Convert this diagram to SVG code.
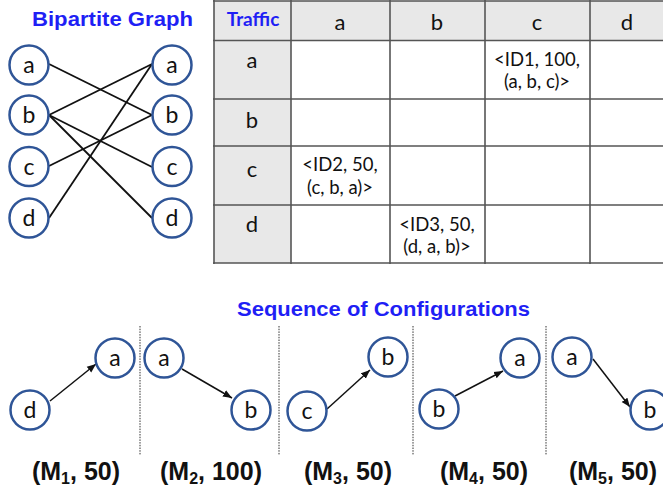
<svg xmlns="http://www.w3.org/2000/svg" width="663" height="496" viewBox="0 0 663 496">
<style>
.title{font-family:"Liberation Sans",Arial,sans-serif;font-weight:bold;fill:#1f1ff5;font-size:20px}
.node circle{fill:#fff;stroke:#2f5597;stroke-width:2.5}
.node text{font-family:Lato,"Open Sans",sans-serif;font-size:23px;fill:#111;text-anchor:middle}
.edge{stroke:#111;stroke-width:1.8;fill:none}
.arrow{stroke:#111;stroke-width:1.5;fill:none;marker-end:url(#arr)}
.grid{stroke:#555;stroke-width:1.6}
.hdr{fill:#e8e8e8}
.th{font-family:Lato,"Open Sans",sans-serif;font-size:22px;fill:#111;text-anchor:middle}
.td{font-family:Lato,"Open Sans",sans-serif;font-size:18.5px;fill:#111;text-anchor:middle}
.traffic{font-family:Lato,"Open Sans",sans-serif;font-size:19px;font-weight:bold;fill:#1f1ff5;text-anchor:middle}
.sep{stroke:#333;stroke-width:1;stroke-dasharray:1.5 1.2}
.lbl{font-family:"Liberation Sans",Arial,sans-serif;font-weight:bold;font-size:25px;fill:#111;text-anchor:middle}
</style>
<defs>
<marker id="arr" viewBox="0 0 10 10" refX="10" refY="5" markerWidth="9" markerHeight="9" markerUnits="userSpaceOnUse" orient="auto"><path d="M0,1 L10,5 L0,9 z" fill="#111"/></marker>
</defs>
<rect width="663" height="496" fill="#fff"/>

<text class="title" x="32" y="26" textLength="161" lengthAdjust="spacingAndGlyphs">Bipartite Graph</text>

<g id="table">
<rect class="hdr" x="214" y="1" width="449" height="39.5"/>
<rect class="hdr" x="214" y="40" width="77" height="223"/>
<g class="grid">
<line x1="213" y1="1" x2="663" y2="1"/>
<line x1="213" y1="40.5" x2="663" y2="40.5"/>
<line x1="213" y1="99" x2="663" y2="99"/>
<line x1="213" y1="146" x2="663" y2="146"/>
<line x1="213" y1="205" x2="663" y2="205"/>
<line x1="213" y1="263" x2="663" y2="263"/>
<line x1="214" y1="0" x2="214" y2="264"/>
<line x1="291" y1="0" x2="291" y2="264"/>
<line x1="390" y1="0" x2="390" y2="264"/>
<line x1="485" y1="0" x2="485" y2="264"/>
<line x1="590" y1="0" x2="590" y2="264"/>
</g>
<text class="traffic" x="253" y="26">Traffic</text>
<text class="th" x="340" y="30">a</text>
<text class="th" x="437" y="30">b</text>
<text class="th" x="537" y="30">c</text>
<text class="th" x="627" y="30">d</text>
<text class="th" x="252" y="68">a</text>
<text class="th" x="252" y="128">b</text>
<text class="th" x="252" y="177">c</text>
<text class="th" x="252" y="232">d</text>
<text class="td" x="537" y="66">&lt;ID1, 100,</text>
<text class="td" x="537" y="88">(a, b, c)&gt;</text>
<text class="td" x="340" y="171">&lt;ID2, 50,</text>
<text class="td" x="340" y="194">(c, b, a)&gt;</text>
<text class="td" x="437" y="231">&lt;ID3, 50,</text>
<text class="td" x="437" y="253">(d, a, b)&gt;</text>
</g>

<g id="connectors">
<line class="edge" x1="49" y1="64" x2="152" y2="115"/>
<line class="edge" x1="49" y1="115" x2="152" y2="64"/>
<line class="edge" x1="49" y1="115" x2="152" y2="167"/>
<line class="edge" x1="49" y1="115" x2="152" y2="218"/>
<line class="edge" x1="49" y1="166" x2="152" y2="115"/>
<line class="edge" x1="49" y1="218" x2="152" y2="64"/>
<line class="arrow" x1="50" y1="401" x2="96" y2="364"/>
<line class="arrow" x1="182" y1="369" x2="232" y2="398"/>
<line class="arrow" x1="327" y1="409" x2="370" y2="370"/>
<line class="arrow" x1="455" y1="396" x2="503" y2="371"/>
<line class="arrow" x1="593" y1="359" x2="630" y2="407"/>
</g>

<g id="L-a" class="node"><circle cx="29" cy="65" r="19.5"/><text x="29" y="73">a</text></g>
<g id="L-b" class="node"><circle cx="29" cy="115" r="19.5"/><text x="29" y="123">b</text></g>
<g id="L-c" class="node"><circle cx="29" cy="166.5" r="19.5"/><text x="29" y="174.5">c</text></g>
<g id="L-d" class="node"><circle cx="29" cy="218" r="19.5"/><text x="29" y="226">d</text></g>
<g id="R-a" class="node"><circle cx="172" cy="65" r="19.5"/><text x="172" y="73">a</text></g>
<g id="R-b" class="node"><circle cx="172" cy="115" r="19.5"/><text x="172" y="123">b</text></g>
<g id="R-c" class="node"><circle cx="172" cy="166.5" r="19.5"/><text x="172" y="174.5">c</text></g>
<g id="R-d" class="node"><circle cx="172" cy="218" r="19.5"/><text x="172" y="226">d</text></g>

<text class="title" x="237" y="316" textLength="293" lengthAdjust="spacingAndGlyphs">Sequence of Configurations</text>

<g id="separators">
<line class="sep" x1="140" y1="326" x2="140" y2="455"/>
<line class="sep" x1="279" y1="326" x2="279" y2="455"/>
<line class="sep" x1="413" y1="326" x2="413" y2="455"/>
<line class="sep" x1="546" y1="326" x2="546" y2="455"/>
</g>

<g id="c1-d" class="node"><circle cx="30" cy="410" r="19.5"/><text x="30" y="418">d</text></g>
<g id="c1-a" class="node"><circle cx="115" cy="358" r="19.5"/><text x="115" y="366">a</text></g>
<g id="c2-a" class="node"><circle cx="164" cy="358" r="19.5"/><text x="164" y="366">a</text></g>
<g id="c2-b" class="node"><circle cx="251" cy="410" r="19.5"/><text x="251" y="418">b</text></g>
<g id="c3-c" class="node"><circle cx="307" cy="411" r="19.5"/><text x="307" y="419">c</text></g>
<g id="c3-b" class="node"><circle cx="388" cy="357" r="19.5"/><text x="388" y="365">b</text></g>
<g id="c4-b" class="node"><circle cx="439" cy="409" r="19.5"/><text x="439" y="417">b</text></g>
<g id="c4-a" class="node"><circle cx="520" cy="358" r="19.5"/><text x="520" y="366">a</text></g>
<g id="c5-a" class="node"><circle cx="572" cy="357" r="19.5"/><text x="572" y="365">a</text></g>
<g id="c5-b" class="node"><circle cx="650" cy="410" r="19.5"/><text x="650" y="418">b</text></g>

<g id="labels">
<text class="lbl" x="76" y="480">(M<tspan font-size="16" dy="4">1</tspan><tspan dy="-4">, 50)</tspan></text>
<text class="lbl" x="211" y="480">(M<tspan font-size="16" dy="4">2</tspan><tspan dy="-4">, 100)</tspan></text>
<text class="lbl" x="348" y="480">(M<tspan font-size="16" dy="4">3</tspan><tspan dy="-4">, 50)</tspan></text>
<text class="lbl" x="484" y="480">(M<tspan font-size="16" dy="4">4</tspan><tspan dy="-4">, 50)</tspan></text>
<text class="lbl" x="613" y="480">(M<tspan font-size="16" dy="4">5</tspan><tspan dy="-4">, 50)</tspan></text>
</g>
</svg>
